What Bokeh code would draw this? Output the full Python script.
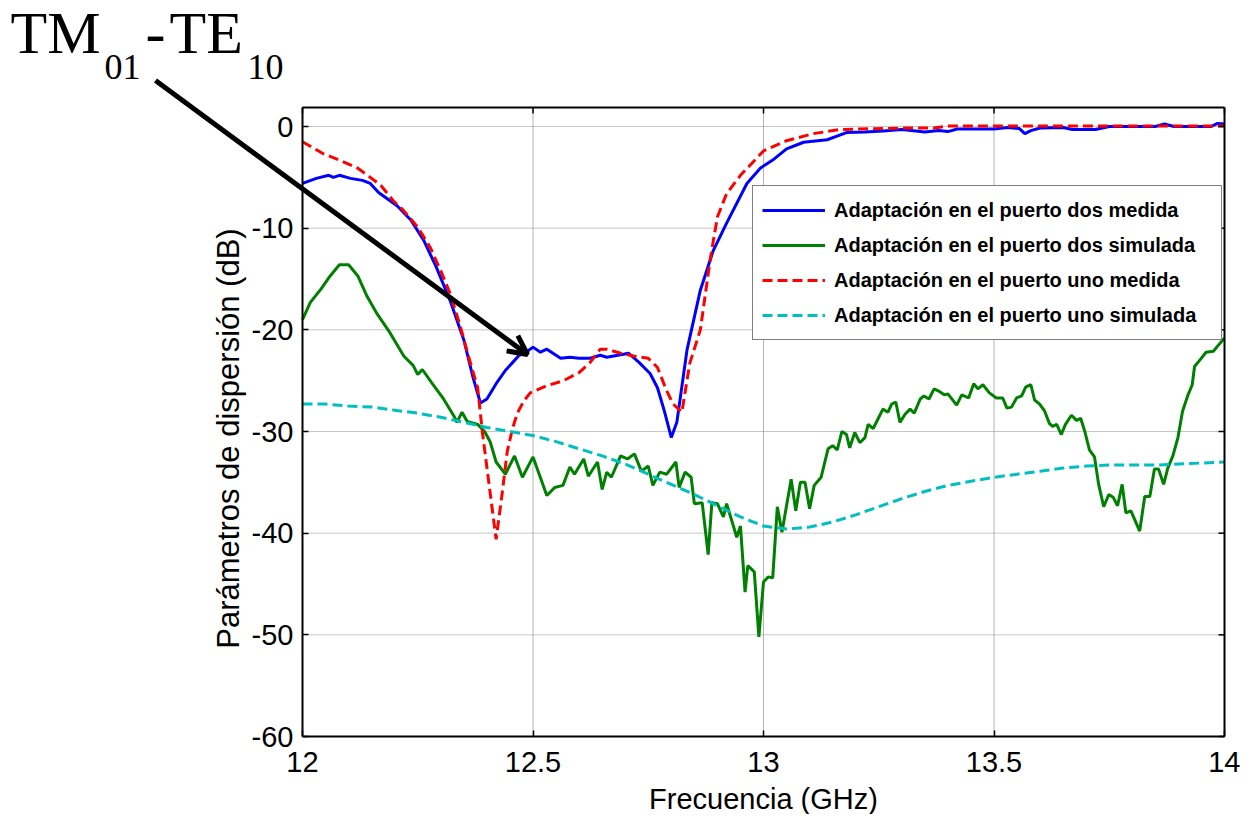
from bokeh.plotting import figure
from bokeh.models import (Range1d, FixedTicker, LinearAxis, Legend, LegendItem,
                          Label, Arrow, OpenHead)
from bokeh.embed import file_html
from bokeh.resources import INLINE

# ---------------- data ----------------
freq_ticks = [12, 12.5, 13, 13.5, 14]
freq_tick_labels = ["12", "12.5", "13", "13.5", "14"]
db_ticks = [-60, -50, -40, -30, -20, -10, 0]
db_tick_labels = ["-60", "-50", "-40", "-30", "-20", "-10", "0"]

series_names = [
    "Adaptación en el puerto dos medida",
    "Adaptación en el puerto dos simulada",
    "Adaptación en el puerto uno medida",
    "Adaptación en el puerto uno simulada",
]

x_label = "Frecuencia (GHz)"
y_label = "Parámetros de dispersión (dB)"
annotation_parts = ["TM", "01", "-", "TE", "10"]

# port 2 measured (blue)
p2_med_x = [12.0, 12.03, 12.057, 12.067, 12.08, 12.104, 12.13, 12.147, 12.165, 12.205,
            12.235, 12.263, 12.29, 12.32, 12.35, 12.37, 12.386, 12.40, 12.42, 12.44,
            12.456, 12.47, 12.485, 12.50, 12.516, 12.53, 12.56, 12.58, 12.60, 12.624,
            12.646, 12.66, 12.696, 12.707, 12.73, 12.754, 12.77, 12.785, 12.80, 12.812,
            12.834, 12.863, 12.891, 12.92, 12.964, 12.993, 13.02, 13.05, 13.087, 13.138,
            13.18, 13.22, 13.26, 13.30, 13.35, 13.38, 13.40, 13.42, 13.50, 13.53,
            13.555, 13.567, 13.58, 13.60, 13.65, 13.67, 13.72, 13.75, 13.85, 13.87,
            13.89, 13.97, 13.985, 14.0]
p2_med_y = [-5.6, -5.1, -4.8, -5.0, -4.8, -5.1, -5.3, -5.6, -6.5, -7.8,
            -9.2, -11.2, -13.8, -17.1, -21.0, -24.7, -27.2, -26.8, -25.3, -24.0,
            -23.2, -22.5, -22.2, -21.7, -22.2, -21.9, -22.8, -22.7, -22.8, -22.8,
            -22.5, -22.7, -22.4, -22.3, -23.2, -24.3, -25.7, -28.0, -30.6, -29.1,
            -22.0, -16.1, -12.2, -9.5, -5.6, -4.1, -3.3, -2.2, -1.55, -1.3,
            -0.6, -0.55, -0.45, -0.3, -0.55, -0.4, -0.5, -0.25, -0.25, -0.1,
            -0.2, -0.7, -0.4, -0.15, -0.1, -0.3, -0.3, 0.0, 0.0, 0.25,
            0.0, 0.0, 0.3, 0.25]

# port 2 simulated (green)
p2_sim_x = [12.0, 12.017, 12.04, 12.06, 12.08, 12.10, 12.12, 12.14, 12.16, 12.19,
            12.22, 12.24, 12.25, 12.26, 12.28, 12.306, 12.33, 12.335, 12.346, 12.357,
            12.38, 12.395, 12.407, 12.42, 12.44, 12.46, 12.477, 12.50, 12.515, 12.53,
            12.547, 12.565, 12.58, 12.59, 12.61, 12.62, 12.64, 12.65, 12.66, 12.67,
            12.69, 12.705, 12.72, 12.735, 12.75, 12.76, 12.775, 12.79, 12.81, 12.817,
            12.83, 12.843, 12.85, 12.867, 12.88, 12.888, 12.90, 12.913, 12.92, 12.942,
            12.95, 12.96, 12.966, 12.98, 12.99, 13.0, 13.01, 13.02, 13.03, 13.04,
            13.06, 13.07, 13.08, 13.09, 13.10, 13.11, 13.125, 13.14, 13.15, 13.16,
            13.17, 13.18, 13.187, 13.198, 13.209, 13.22, 13.227, 13.238, 13.259, 13.27,
            13.278, 13.287, 13.296, 13.307, 13.318, 13.327, 13.34, 13.348, 13.359, 13.37,
            13.379, 13.393, 13.40, 13.419, 13.43, 13.445, 13.456, 13.465, 13.476, 13.49,
            13.505, 13.519, 13.528, 13.538, 13.549, 13.56, 13.569, 13.58, 13.588, 13.599,
            13.61, 13.62, 13.627, 13.636, 13.646, 13.655, 13.668, 13.679, 13.688, 13.697,
            13.707, 13.718, 13.727, 13.738, 13.749, 13.759, 13.768, 13.778, 13.786, 13.797,
            13.816, 13.827, 13.838, 13.848, 13.857, 13.868, 13.877, 13.888, 13.899, 13.909,
            13.92, 13.93, 13.935, 13.946, 13.96, 13.976, 13.985, 14.0]
p2_sim_y = [-19.0, -17.3, -16.0, -14.7, -13.6, -13.6, -14.7, -16.7, -18.3, -20.3,
            -22.6, -23.5, -24.4, -23.9, -25.2, -26.8, -28.6, -29.1, -28.1, -29.0,
            -29.3, -30.0, -31.0, -33.0, -34.2, -32.4, -34.5, -32.5, -34.4, -36.3,
            -35.5, -35.3, -33.5, -34.2, -32.7, -34.4, -33.0, -35.7, -34.0, -34.5,
            -32.4, -32.7, -32.2, -33.9, -33.4, -35.3, -34.0, -34.2, -33.0, -35.5,
            -34.0, -34.5, -37.1, -37.0, -42.1, -37.0, -37.1, -38.4, -37.1, -40.4,
            -39.3, -45.8, -43.2, -43.8, -50.2, -44.8, -44.3, -44.4, -37.4, -39.9,
            -34.7, -37.8, -35.0, -35.0, -37.6, -35.3, -34.5, -31.7, -31.4, -31.8,
            -30.0, -30.3, -31.6, -30.1, -31.1, -30.6, -29.3, -29.7, -27.8, -28.1,
            -27.3, -27.1, -29.1, -28.3, -27.8, -28.2, -26.8, -26.5, -26.8, -25.8,
            -26.0, -26.4, -26.3, -27.4, -26.4, -26.7, -25.3, -25.8, -25.4, -26.2,
            -26.7, -26.7, -27.7, -27.6, -26.7, -26.5, -25.6, -25.4, -26.9, -27.3,
            -28.0, -29.2, -29.5, -29.3, -30.3, -29.3, -28.4, -28.9, -28.7, -30.0,
            -31.8, -32.5, -35.2, -37.4, -36.2, -36.5, -37.3, -35.2, -38.0, -37.8,
            -39.8, -36.4, -36.4, -33.7, -33.7, -35.2, -33.6, -32.4, -30.6, -28.0,
            -26.5, -25.4, -23.6, -23.0, -22.2, -22.1, -21.6, -20.8]

# port 1 measured (red)
p1_med_x = [12.0, 12.046, 12.08, 12.12, 12.147, 12.17, 12.197, 12.22, 12.25, 12.277,
            12.30, 12.32, 12.342, 12.36, 12.38, 12.39, 12.405, 12.42, 12.432, 12.444,
            12.455, 12.466, 12.48, 12.494, 12.53, 12.566, 12.60, 12.624, 12.646, 12.66,
            12.69, 12.72, 12.75, 12.77, 12.79, 12.804, 12.823, 12.84, 12.863, 12.885,
            12.90, 12.92, 12.95, 13.0, 13.05, 13.108, 13.166, 13.30, 13.37, 13.40,
            13.5, 13.6, 13.7, 13.8, 13.9, 14.0]
p1_med_y = [-1.5, -2.7, -3.3, -4.1, -5.0, -5.8, -7.3, -8.3, -9.9, -11.9,
            -14.2, -16.4, -19.6, -22.6, -25.7, -30.0, -35.3, -40.6, -36.5, -32.0,
            -29.8, -28.2, -27.0, -26.2, -25.5, -25.0, -24.2, -23.2, -21.9, -21.9,
            -22.3, -22.6, -22.8, -23.7, -26.0, -27.3, -28.1, -23.3, -20.0, -12.9,
            -8.9, -6.6, -4.8, -2.4, -1.4, -0.7, -0.3, -0.15, -0.15, 0.05,
            0.05, 0.05, 0.05, 0.05, 0.05, 0.05]

# port 1 simulated (cyan)
p1_sim_x = [12.0, 12.05, 12.1, 12.15, 12.2, 12.25, 12.3, 12.35, 12.4, 12.45,
            12.5, 12.55, 12.6, 12.65, 12.7, 12.75, 12.8, 12.85, 12.9, 12.95,
            13.0, 13.05, 13.1, 13.15, 13.2, 13.25, 13.3, 13.35, 13.4, 13.45,
            13.5, 13.55, 13.6, 13.65, 13.7, 13.75, 13.8, 13.85, 13.9, 13.95, 14.0]
p1_sim_y = [-27.3, -27.3, -27.5, -27.6, -27.9, -28.2, -28.6, -29.1, -29.6, -30.0,
            -30.4, -31.0, -31.7, -32.4, -33.2, -34.2, -35.2, -36.2, -37.3, -38.4,
            -39.3, -39.6, -39.4, -38.9, -38.2, -37.4, -36.6, -35.9, -35.3, -34.9,
            -34.5, -34.2, -33.9, -33.6, -33.4, -33.3, -33.3, -33.3, -33.2, -33.1, -33.0]

# ---------------- layout (pixels) ----------------
W, H = 1240, 814
BOX_L, BOX_R, BOX_T, BOX_B = 302, 1224, 107, 736   # axes box in canvas pixels
X0, X1 = 12.0, 14.0
Y0, Y1 = -60.0, 1.87
YLABEL_SPAN = (-60.0, -1.4)    # the y-axis title is centred on this span
SANS = "Liberation Sans"
SERIF = "Liberation Serif"
TICK_LEN = 6

kx = (BOX_R - BOX_L) / (X1 - X0)
ky = (BOX_B - BOX_T) / (Y1 - Y0)
xr = Range1d(X0 - BOX_L / kx, X1 + (W - BOX_R) / kx)
yr = Range1d(Y0 - (H - BOX_B) / ky, Y1 + BOX_T / ky)

p = figure(width=W, height=H, output_backend="svg", toolbar_location=None,
           title=None, x_range=xr, y_range=yr,
           x_axis_location=None, y_axis_location=None,
           min_border=0, min_border_left=0, min_border_right=0,
           min_border_top=0, min_border_bottom=0,
           background_fill_color="white", border_fill_color="white")
p.outline_line_color = None
p.grid.visible = False

xt = FixedTicker(ticks=freq_ticks, minor_ticks=[])
yt = FixedTicker(ticks=db_ticks, minor_ticks=[])
x_over = {t: l for t, l in zip(freq_ticks, freq_tick_labels)}
y_over = {t: l for t, l in zip(db_ticks, db_tick_labels)}

def make_axis(ticker, over, loc, bounds):
    ax = LinearAxis(ticker=ticker, fixed_location=loc, bounds=bounds)
    ax.axis_line_color = "black"
    ax.axis_line_width = 2
    ax.major_tick_line_color = "black"
    ax.major_tick_line_width = 1.5
    ax.major_tick_in = TICK_LEN
    ax.major_tick_out = 0
    ax.minor_tick_line_color = None
    ax.major_label_text_font = SANS
    ax.major_label_text_font_size = "29px"
    ax.major_label_text_color = "black"
    ax.major_label_overrides = over
    ax.axis_label_text_font = SANS
    ax.axis_label_text_font_style = "normal"
    ax.axis_label_text_color = "black"
    return ax

# gridlines (under everything)
p.segment(x0=freq_ticks, y0=[Y0] * len(freq_ticks), x1=freq_ticks, y1=[Y1] * len(freq_ticks),
          line_color="#b4b4b4", line_width=1, level="underlay")
p.segment(x0=[X0] * len(db_ticks), y0=db_ticks, x1=[X1] * len(db_ticks), y1=db_ticks,
          line_color="#8c8c8c", line_width=1, line_dash="1 1", level="underlay")

# curves
r1 = p.line(p2_med_x, p2_med_y, line_color="#0000FF", line_width=3)
r2 = p.line(p2_sim_x, p2_sim_y, line_color="#008000", line_width=3)
r3 = p.line(p1_med_x, p1_med_y, line_color="#FF0000", line_width=3, line_dash="10 5")
r4 = p.line(p1_sim_x, p1_sim_y, line_color="#00BFBF", line_width=3, line_dash="10 5")

# bottom / left axes
xa = make_axis(xt, x_over, Y0, (X0, X1))
xa.major_label_standoff = 15
xa.axis_label = x_label
xa.axis_label_text_font_size = "29px"
xa.axis_label_standoff = 8

ya = make_axis(yt, y_over, X0, (Y0, Y1))
ya.major_label_standoff = 9

# a tick-less companion axis that only carries the y title
yl = LinearAxis(ticker=FixedTicker(ticks=[], minor_ticks=[]), fixed_location=X0,
                bounds=YLABEL_SPAN, axis_line_color=None, major_tick_line_color=None,
                minor_tick_line_color=None, major_tick_out=0, major_tick_in=0)
yl.axis_label = y_label
yl.axis_label_text_font = SANS
yl.axis_label_text_font_size = "31px"
yl.axis_label_text_font_style = "normal"
yl.axis_label_text_color = "black"
yl.axis_label_standoff = 57

p.add_layout(xa, "below")
p.add_layout(ya, "left")
p.add_layout(yl, "left")

# top and right edges of the box, with inward ticks
p.segment(x0=[X0, X1], y0=[Y1, Y0], x1=[X1, X1], y1=[Y1, Y1],
          line_color="black", line_width=2)
p.segment(x0=freq_ticks, y0=[Y1] * len(freq_ticks), x1=freq_ticks,
          y1=[Y1 - TICK_LEN / ky] * len(freq_ticks), line_color="black", line_width=1.5)
p.segment(x0=[X1] * len(db_ticks), y0=db_ticks, x1=[X1 - TICK_LEN / kx] * len(db_ticks),
          y1=db_ticks, line_color="black", line_width=1.5)

legend = Legend(items=[LegendItem(label=n, renderers=[r]) for n, r in
                       zip(series_names, [r1, r2, r3, r4])],
                location=(752, H - 340), margin=0, padding=9, spacing=5,
                glyph_width=63, glyph_height=30, label_height=30, label_width=378,
                label_standoff=9, label_text_font=SANS, label_text_font_size="20px",
                label_text_font_style="bold", label_text_color="black",
                border_line_color="black", border_line_width=1.5,
                background_fill_color="white", background_fill_alpha=1.0)
p.add_layout(legend)

# TM01-TE10 annotation: (left px, baseline px from top, font px)
pieces = [(10, 55, 60), (104, 80, 36), (145, 55, 60), (169, 55, 60), (247, 80, 36)]
for txt, (sx, base, fs) in zip(annotation_parts, pieces):
    p.add_layout(Label(x=sx, y=H - base + 0.375 * fs, x_units="screen", y_units="screen",
                       text=txt, text_font=SERIF, text_font_size=f"{fs}px",
                       text_color="black", text_align="left", text_baseline="alphabetic"))

# arrow from the annotation to the blue curve
ax_s, ay_s = 155, 80
ax_e, ay_e = 527, 354
p.add_layout(Arrow(end=OpenHead(size=19, line_width=5, line_color="black"),
                   x_start=X0 + (ax_s - BOX_L) / kx, y_start=Y1 - (ay_s - BOX_T) / ky,
                   x_end=X0 + (ax_e - BOX_L) / kx, y_end=Y1 - (ay_e - BOX_T) / ky,
                   line_width=5, line_color="black"))

open("out.html", "w").write(file_html(p, INLINE))
